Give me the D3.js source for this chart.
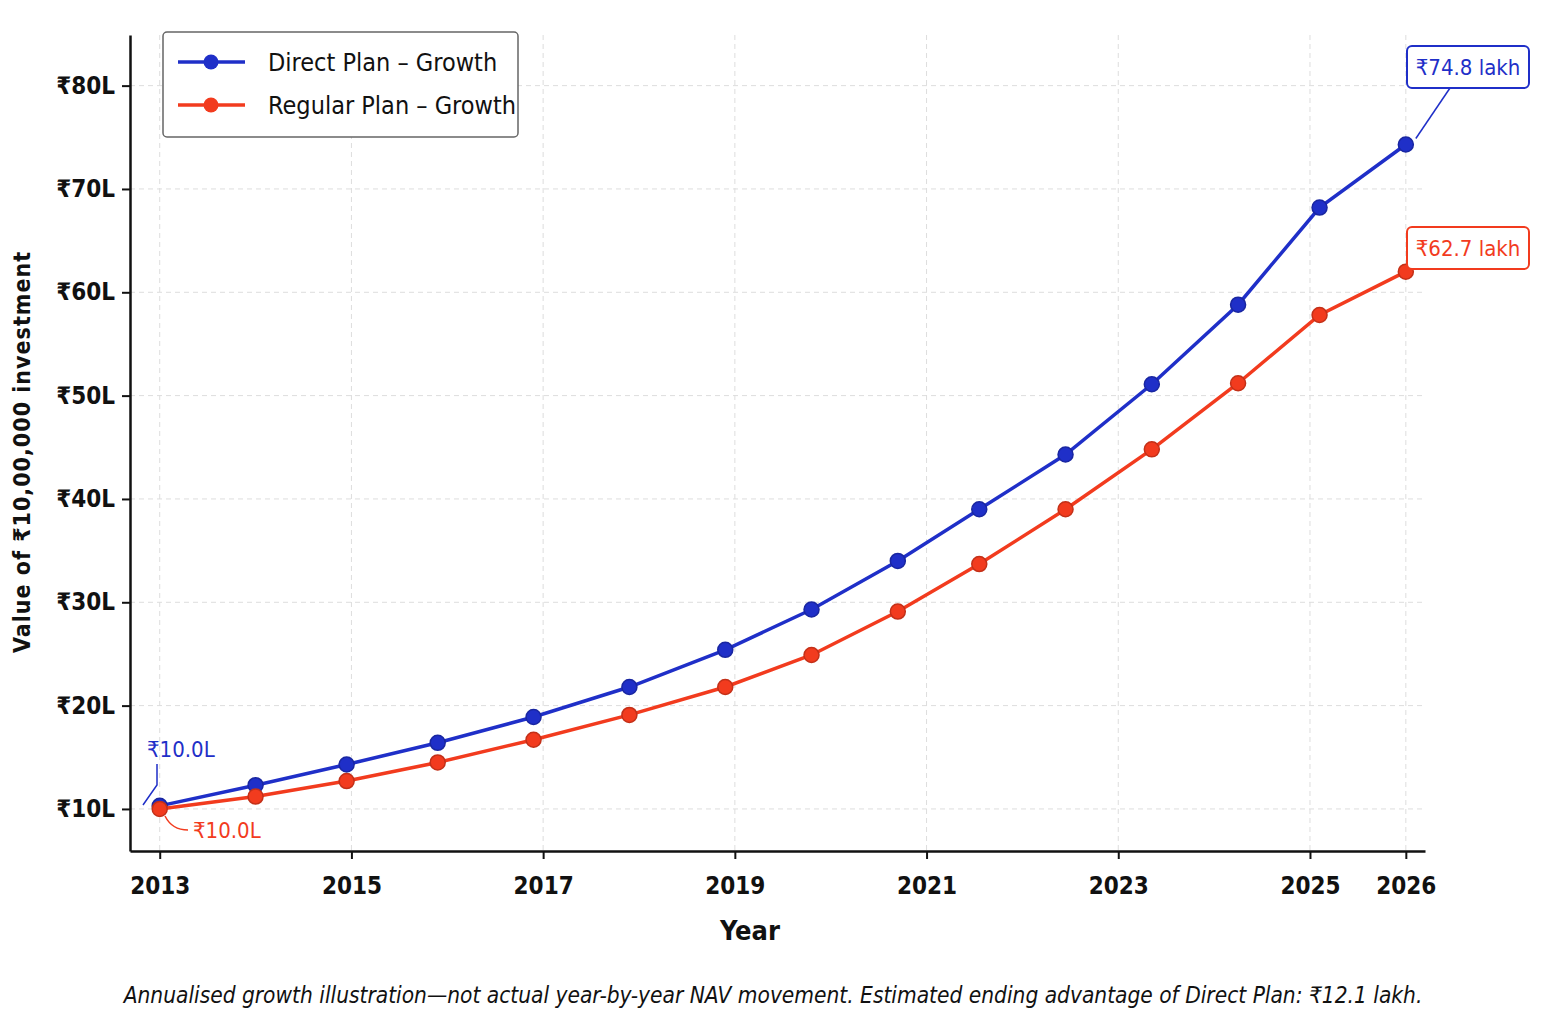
<!DOCTYPE html>
<html><head><meta charset="utf-8">
<script src="https://cdn.jsdelivr.net/npm/d3@7"></script>
<style>
body{margin:0;background:#fff}
text{font-family:"DejaVu Sans Condensed","DejaVu Sans",sans-serif}
</style></head>
<body><svg id="chart" width="1541" height="1020"></svg>
<script>
// point positions (fractional years) and values in lakh
const years = [2013, 2014, 2014.95, 2015.9, 2016.9, 2017.9, 2018.9, 2019.8, 2020.7, 2021.55, 2022.45, 2023.35, 2024.25, 2025.1, 2026];
const directValues = [10.3, 12.3, 14.3, 16.4, 18.9, 21.8, 25.4, 29.3, 34.0, 39.0, 44.3, 51.1, 58.8, 68.2, 74.3];
const regularValues = [10.0, 11.2, 12.7, 14.5, 16.7, 19.1, 21.8, 24.9, 29.1, 33.7, 39.0, 44.8, 51.2, 57.8, 62.0];
const xTicks = [2013, 2015, 2017, 2019, 2021, 2023, 2025, 2026];
const yTicks = [10, 20, 30, 40, 50, 60, 70, 80];
const blue = "#1f2fc8", red = "#f23b1e";

const svg = d3.select("#chart");
const x = d3.scaleLinear().domain([2012.69, 2026.2]).range([130, 1425]);
const y = d3.scaleLinear().domain([5.93, 84.9]).range([851, 35]);

// grid
svg.append("g").selectAll("line").data(yTicks).enter().append("line")
  .attr("x1", 130).attr("x2", 1425).attr("y1", d => y(d)).attr("y2", d => y(d))
  .attr("stroke", "#ddd").attr("stroke-dasharray", "5,4");
svg.append("g").selectAll("line").data(xTicks).enter().append("line")
  .attr("y1", 35).attr("y2", 851).attr("x1", d => x(d)).attr("x2", d => x(d))
  .attr("stroke", "#ddd").attr("stroke-dasharray", "5,4");

// axes
const xAxis = svg.append("g").attr("transform", "translate(0,851)")
  .call(d3.axisBottom(x).tickValues(xTicks).tickFormat(d3.format("d")).tickSize(8).tickSizeOuter(0));
const yAxis = svg.append("g").attr("transform", "translate(130,0)")
  .call(d3.axisLeft(y).tickValues(yTicks).tickFormat(d => "₹" + d + "L").tickSize(8).tickSizeOuter(0));
[xAxis, yAxis].forEach(a => {
  a.select(".domain").attr("stroke", "#111").attr("stroke-width", 2.5);
  a.selectAll(".tick line").attr("stroke", "#111").attr("stroke-width", 2);
  a.selectAll("text").attr("fill", "#111").attr("font-size", 24).attr("font-weight", "bold");
});
xAxis.selectAll("text").attr("dy", "1.35em");
yAxis.selectAll("text").attr("dx", "-4");

svg.append("text").attr("x", 750).attr("y", 940).attr("text-anchor", "middle")
  .attr("font-size", 27).attr("font-weight", "bold").attr("fill", "#111").text("Year");
svg.append("text").attr("transform", "translate(30,452) rotate(-90)").attr("text-anchor", "middle")
  .attr("font-size", 23).attr("font-weight", "bold").attr("fill", "#111").attr("letter-spacing", 1)
  .text("Value of ₹10,00,000 investment");

// series
const line = d3.line().x(d => x(d[0])).y(d => y(d[1]));
[[directValues, blue], [regularValues, red]].forEach(([vals, col]) => {
  const pts = years.map((yr, i) => [yr, vals[i]]);
  svg.append("path").datum(pts).attr("d", line).attr("fill", "none")
    .attr("stroke", col).attr("stroke-width", 3.5);
  svg.append("g").selectAll("circle").data(pts).enter().append("circle")
    .attr("cx", d => x(d[0])).attr("cy", d => y(d[1])).attr("r", 7.5)
    .attr("fill", col).attr("stroke", d3.color(col).darker(0.6)).attr("stroke-width", 1.5);
});

// end labels
function boxLabel(txt, col, bx, by, px, py, lx, ly) {
  svg.append("line").attr("x1", px).attr("y1", py).attr("x2", lx).attr("y2", ly)
    .attr("stroke", col).attr("stroke-width", 1.5);
  svg.append("rect").attr("x", bx).attr("y", by).attr("width", 122).attr("height", 42).attr("rx", 5)
    .attr("fill", "#fff").attr("stroke", col).attr("stroke-width", 2);
  svg.append("text").attr("x", bx + 61).attr("y", by + 29).attr("text-anchor", "middle")
    .attr("font-size", 22).attr("fill", col).text(txt);
}
const nL = directValues.length - 1;
boxLabel("₹74.8 lakh", blue, 1407, 46, x(years[nL]) + 10, y(directValues[nL]) - 6, 1450, 88);
boxLabel("₹62.7 lakh", red, 1407, 227, x(years[nL]) + 10, y(regularValues[nL]) - 4, 1450, 269);

// start labels
svg.append("text").attr("x", 147).attr("y", 757).attr("font-size", 22).attr("fill", blue).text("₹10.0L");
svg.append("path").attr("d", `M157,764 L157,785 Q150,795 143,805`).attr("fill", "none").attr("stroke", blue).attr("stroke-width", 1.5);
svg.append("text").attr("x", 193).attr("y", 838).attr("font-size", 22).attr("fill", red).text("₹10.0L");
svg.append("path").attr("d", `M165,816 Q172,830 188,830`).attr("fill", "none").attr("stroke", red).attr("stroke-width", 1.5);

// legend
const lg = svg.append("g");
lg.append("rect").attr("x", 163).attr("y", 32).attr("width", 355).attr("height", 105).attr("rx", 4)
  .attr("fill", "#fff").attr("stroke", "#666").attr("stroke-width", 1.5);
[["Direct Plan – Growth", blue], ["Regular Plan – Growth", red]].forEach(([t, col], i) => {
  const yy = 62 + i * 43;
  lg.append("line").attr("x1", 178).attr("x2", 245).attr("y1", yy).attr("y2", yy).attr("stroke", col).attr("stroke-width", 3.5);
  lg.append("circle").attr("cx", 211).attr("cy", yy).attr("r", 7.5).attr("fill", col);
  lg.append("text").attr("x", 268).attr("y", yy + 9).attr("font-size", 25).attr("fill", "#111").text(t);
});

svg.append("text").attr("x", 773).attr("y", 1003).attr("text-anchor", "middle")
  .attr("font-size", 22.5).attr("font-style", "italic").attr("fill", "#111")
  .text("Annualised growth illustration—not actual year-by-year NAV movement. Estimated ending advantage of Direct Plan: ₹12.1 lakh.");
</script></body></html>
